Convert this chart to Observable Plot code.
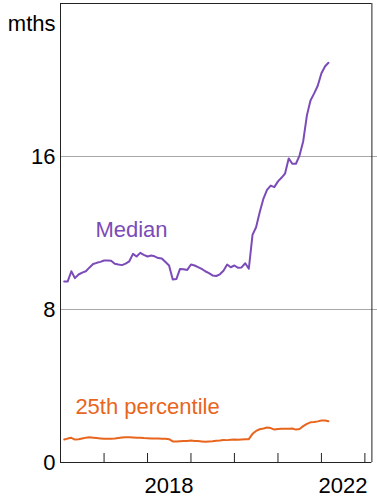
<!DOCTYPE html>
<html><head><meta charset="utf-8">
<script src="https://cdn.jsdelivr.net/npm/d3@7"></script>
<script src="https://cdn.jsdelivr.net/npm/@observablehq/plot@0.6"></script>
<style>html,body{margin:0;padding:0;background:#fff;} svg{display:block}</style>
</head><body><div id="chart"></div>
<script>
// Monthly series, first value = Feb 2016
const startMonth = "2016-02-01";
const median = [
  9.46, 9.46, 10.0, 9.64, 9.83, 9.93, 10.0, 10.2, 10.38, 10.44, 10.49,
  10.56, 10.56, 10.55, 10.39, 10.35, 10.32, 10.4, 10.52, 10.91, 10.77, 10.96, 10.86,
  10.77, 10.82, 10.78, 10.69, 10.67, 10.48, 10.3, 9.57, 9.6, 10.12, 10.1, 10.07,
  10.35, 10.3, 10.22, 10.12, 10.0, 9.9, 9.78, 9.75, 9.84, 10.03, 10.35, 10.21,
  10.3, 10.18, 10.2, 10.42, 10.13, 11.9, 12.3, 13.1, 13.8, 14.25, 14.48, 14.4,
  14.7, 14.9, 15.1, 15.9, 15.62, 15.62, 16.05, 16.8, 18.15, 18.93, 19.3, 19.7,
  20.35, 20.72, 20.9
];
const p25 = [
  1.2, 1.25, 1.29, 1.2, 1.22, 1.26, 1.3, 1.32, 1.3, 1.28, 1.26,
  1.24, 1.24, 1.24, 1.25, 1.28, 1.31, 1.32, 1.32, 1.31, 1.3, 1.3, 1.28,
  1.27, 1.26, 1.25, 1.25, 1.24, 1.24, 1.22, 1.1, 1.1, 1.11, 1.12, 1.13,
  1.15, 1.13, 1.12, 1.1, 1.08, 1.1, 1.11, 1.14, 1.15, 1.18, 1.17, 1.19,
  1.2, 1.19, 1.2, 1.21, 1.22, 1.5, 1.65, 1.74, 1.78, 1.83, 1.8, 1.72,
  1.75, 1.76, 1.77, 1.76, 1.78, 1.72, 1.75, 1.9, 2.02, 2.1, 2.12, 2.15,
  2.2, 2.2, 2.16
];
const yTicks = [0, 8, 16];
const gridValues = [8, 16];
const yearTicks = [2016, 2017, 2018, 2019, 2020, 2021, 2022, 2023];
const yearLabels = [2018, 2022];
const seriesNames = ["Median", "25th percentile"];
const labelDates = ["2016-10-20", "2016-05-05"];
const labelValues = [12.18, 2.89];
const colors = ["#7b4bb8", "#e8651d"];
const unitLabel = "mths";

const xStart = new Date("2016-01-01");
const xEnd = new Date("2023-04-17");
const borderDate = new Date("2023-03-01");

const monthDate = i => d3.utcMonth.offset(new Date(startMonth), i);
const medData = median.map((v, i) => ({date: monthDate(i), value: v}));
const p25Data = p25.map((v, i) => ({date: monthDate(i), value: v}));
const yearDates = yearTicks.map(y => new Date(Date.UTC(y, 0, 1)));
const labels = seriesNames.map((s, i) => ({text: s, date: new Date(labelDates[i]), value: labelValues[i], color: colors[i]}));

const axisColor = "#222";
const chart = Plot.plot({
  width: 377,
  height: 503,
  marginLeft: 60,
  marginRight: 0,
  marginTop: 3,
  marginBottom: 41,
  x: {type: "utc", domain: [xStart, xEnd], axis: null},
  y: {domain: [0, 24], axis: null},
  style: {fontFamily: "'Liberation Sans', Arial, sans-serif", fontSize: "22px", color: "#000", background: "#fff"},
  marks: [
    Plot.ruleY(gridValues, {stroke: "#a8a8a8", strokeWidth: 1}),
    Plot.ruleY([0, 24], {x1: () => xStart, x2: () => borderDate, stroke: axisColor, strokeWidth: 1}),
    Plot.ruleX([xStart, borderDate], {stroke: axisColor, strokeWidth: 1}),
    Plot.ruleX(yearDates, {y1: 0, y2: 0, insetTop: -9, stroke: axisColor, strokeWidth: 1}),
    Plot.line(p25Data, {x: "date", y: "value", stroke: colors[1], strokeWidth: 2}),
    Plot.line(medData, {x: "date", y: "value", stroke: colors[0], strokeWidth: 2}),
    Plot.text(labels, {x: "date", y: "value", text: "text", fill: "color", textAnchor: "start", fontSize: 22}),
    Plot.text(yTicks, {x: () => xStart, y: d => d, text: d => String(d), textAnchor: "end", dx: -5, fontSize: 22, fill: "#000"}),
    Plot.text(yearLabels, {x: d => new Date(Date.UTC(d, 6, 1)), y: () => 0, text: d => String(d), dy: 23, fontSize: 22, fill: "#000"}),
    Plot.text([unitLabel], {frameAnchor: "top-left", text: d => d, textAnchor: "end", dx: -5, dy: 11.5, fontSize: 22, fill: "#000"})
  ]
});
document.getElementById("chart").append(chart);
</script>
</body></html>
